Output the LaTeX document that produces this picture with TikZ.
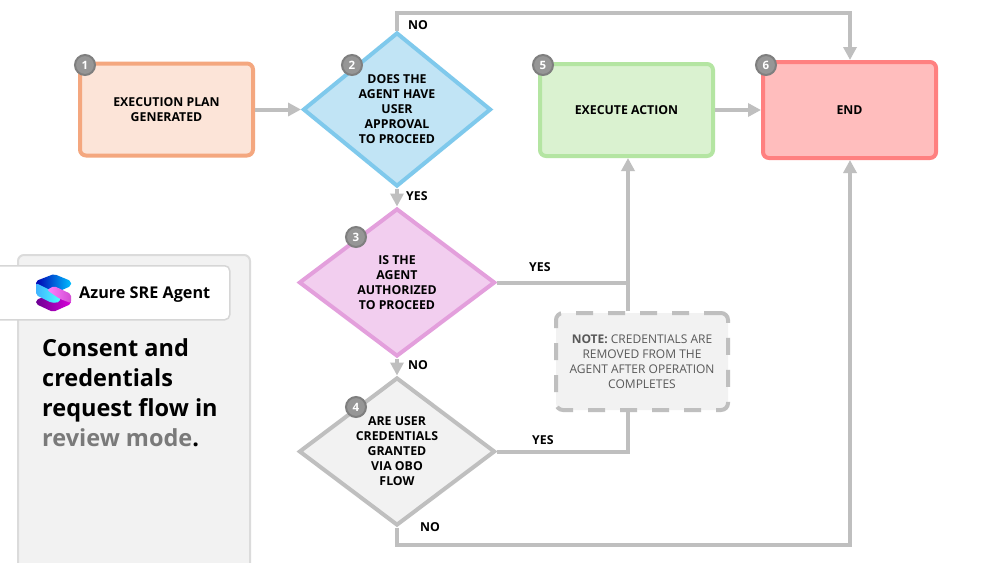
\documentclass[tikz,border=0pt]{standalone}
\usepackage{fontspec}
\setmainfont{Open Sans}
\usetikzlibrary{shapes.geometric,arrows.meta,calc}
\definecolor{conn}{HTML}{BFBFBF}
\definecolor{pane}{HTML}{F2F2F2}
\definecolor{badgefill}{HTML}{969696}
\definecolor{badgeline}{HTML}{7F7F7F}
\definecolor{planline}{HTML}{F4A77F}
\definecolor{planfill}{HTML}{FCE4D8}
\definecolor{approvalline}{HTML}{7FC9EC}
\definecolor{approvalfill}{HTML}{C1E4F5}
\definecolor{authline}{HTML}{E39FDC}
\definecolor{authfill}{HTML}{F2CEEF}
\definecolor{execline}{HTML}{B4E5A2}
\definecolor{execfill}{HTML}{DAF2D0}
\definecolor{endline}{HTML}{FF8080}
\definecolor{endfill}{HTML}{FFBDBD}
\tikzset{
  x=1pt,y=-1pt,
  flowbox/.style={draw,line width=4pt,rounded corners=6pt,align=center,font=\bfseries\fontsize{12.3}{15}\selectfont,inner sep=0pt,anchor=north west},
  decision/.style={draw,diamond,line width=4pt,align=center,font=\bfseries\fontsize{12.3}{15}\selectfont,inner sep=0pt,minimum width=#1,aspect=1.25},
  badge/.style={circle,draw=badgeline,fill=badgefill,line width=2pt,minimum size=20pt,inner sep=0pt,text=white,font=\bfseries\fontsize{11.5}{11.5}\selectfont},
  flow/.style={draw=conn,line width=4pt},
  flowarrow/.style={flow,-{Triangle[length=13pt,width=13pt]}},
  flowlabel/.style={font=\bfseries\fontsize{12.3}{14}\selectfont,inner sep=0pt,anchor=west},
}
\begin{document}
\begin{tikzpicture}
\useasboundingbox (0,0) rectangle (1000,562);
\fill[white] (0,0) rectangle (1000,562);
\path[clip] (0,0) rectangle (1000,562);
% side panel
\node[draw=black!14,fill=pane,line width=2pt,rounded corners=6pt,minimum width=232pt,minimum height=320pt,anchor=north west,inner sep=0pt] (panel) at (17,254) {};
\node[draw=black!16,fill=white,line width=1.5pt,rounded corners=5pt,minimum width=240pt,minimum height=54pt,anchor=north west,inner sep=0pt] (tag) at (-11,265) {};
\node[font=\bfseries\fontsize{16.2}{18}\selectfont,anchor=west,inner sep=0pt] (tagtext) at (79,295) {Azure SRE Agent};
% logo
\shade[rounded corners=2pt,left color=violet!85!blue,right color=magenta!70!violet] (36,300) -- (53,293) -- (71,300) -- (71,304) -- (53,312) -- (36,304) -- cycle;
\shade[rounded corners=2pt,left color=blue!70!black,right color=cyan!75!blue] (36,281) -- (54,274) -- (71,281) -- (71,286) -- (53,294) -- (36,286) -- cycle;
\shade[rounded corners=2pt,left color=cyan!60!blue!75!white,right color=cyan!70!white] (36,283) -- (60,295) -- (60,302) -- (52,303) -- (36,295) -- cycle;
\shade[rounded corners=2pt,left color=magenta!50!white,right color=magenta!50!violet!70!white] (47,290) -- (54,286) -- (71,294) -- (71,303) -- (60,299) -- cycle;
\node[font=\bfseries\fontsize{23.5}{30}\selectfont,align=left,anchor=north west,inner sep=0pt] (title) at (42,338) {Consent and\\credentials\\request flow in\\{\color{black!52}review mode}.};
% nodes
\node[flowbox,draw=planline,fill=planfill,minimum width=173pt,minimum height=92pt] (n1) at (78,61.5) {EXECUTION PLAN\\GENERATED};
\node[decision=188pt,draw=approvalline,fill=approvalfill,minimum height=154pt] (n2) at (397,109.5) {DOES THE\\AGENT HAVE\\USER\\APPROVAL\\TO PROCEED};
\node[decision=196pt,draw=authline,fill=authfill,minimum height=148pt] (n3) at (397,282.5) {IS THE\\AGENT\\AUTHORIZED\\TO PROCEED};
\node[decision=196pt,draw=conn,fill=pane,minimum height=148pt] (n4) at (397,451.5) {ARE USER\\CREDENTIALS\\GRANTED\\VIA OBO\\FLOW};
\node[flowbox,draw=execline,fill=execfill,minimum width=173pt,minimum height=92pt] (n5) at (538,62) {EXECUTE ACTION};
\node[flowbox,draw=endline,fill=endfill,minimum width=173pt,minimum height=96pt] (n6) at (761,60) {END};
\node[draw=conn,fill=pane,line width=4pt,dash pattern=on 17pt off 15pt,rounded corners=7pt,minimum width=172pt,minimum height=97pt,align=center,inner sep=0pt,text=black!65,font=\fontsize{12}{15}\selectfont,anchor=north west] (note) at (554,311) {\textbf{NOTE:} CREDENTIALS ARE\\REMOVED FROM THE\\AGENT AFTER OPERATION\\COMPLETES};
% connectors
\coordinate (topright) at (850,13);
\coordinate (botright) at (850,545);
\coordinate (junction) at (628,283);
\draw[flowarrow] (n1.east) -- (n2.west);
\draw[flowarrow] (n5.east) -- (n6.west);
\draw[flowarrow] (n2.south) -- (n3.north);
\draw[flowarrow] (n3.south) -- (n4.north);
\draw[flowarrow] (n2.north) -- (n2.north |- topright) -- (topright) -- (n6.north -| topright);
\draw[flowarrow] (n4.south) -- (n4.south |- botright) -- (botright) -- (n6.south -| botright);
\draw[flow] (n3.east) -- (n3.east -| junction);
\draw[flowarrow] (n3.east -| junction) -- (n5.south -| junction);
\draw[flow] (note.north -| junction) -- (n3.east -| junction);
\draw[flow] (n4.east) -- (n4.east -| junction) -- (note.south -| junction);
% labels
\node[flowlabel] (lno1) at (408,25) {NO};
\node[flowlabel] (lyes2) at (406,196) {YES};
\node[flowlabel] (lyes3) at (529,267) {YES};
\node[flowlabel] (lno3) at (408,365) {NO};
\node[flowlabel] (lyes4) at (532,440) {YES};
\node[flowlabel] (lno4) at (420,527) {NO};
% badges
\node[badge] (b1) at (85,65) {1};
\node[badge] (b2) at (352,65) {2};
\node[badge] (b3) at (356,237) {3};
\node[badge] (b4) at (356,407) {4};
\node[badge] (b5) at (543,65) {5};
\node[badge] (b6) at (766,65) {6};
\end{tikzpicture}
\end{document}
